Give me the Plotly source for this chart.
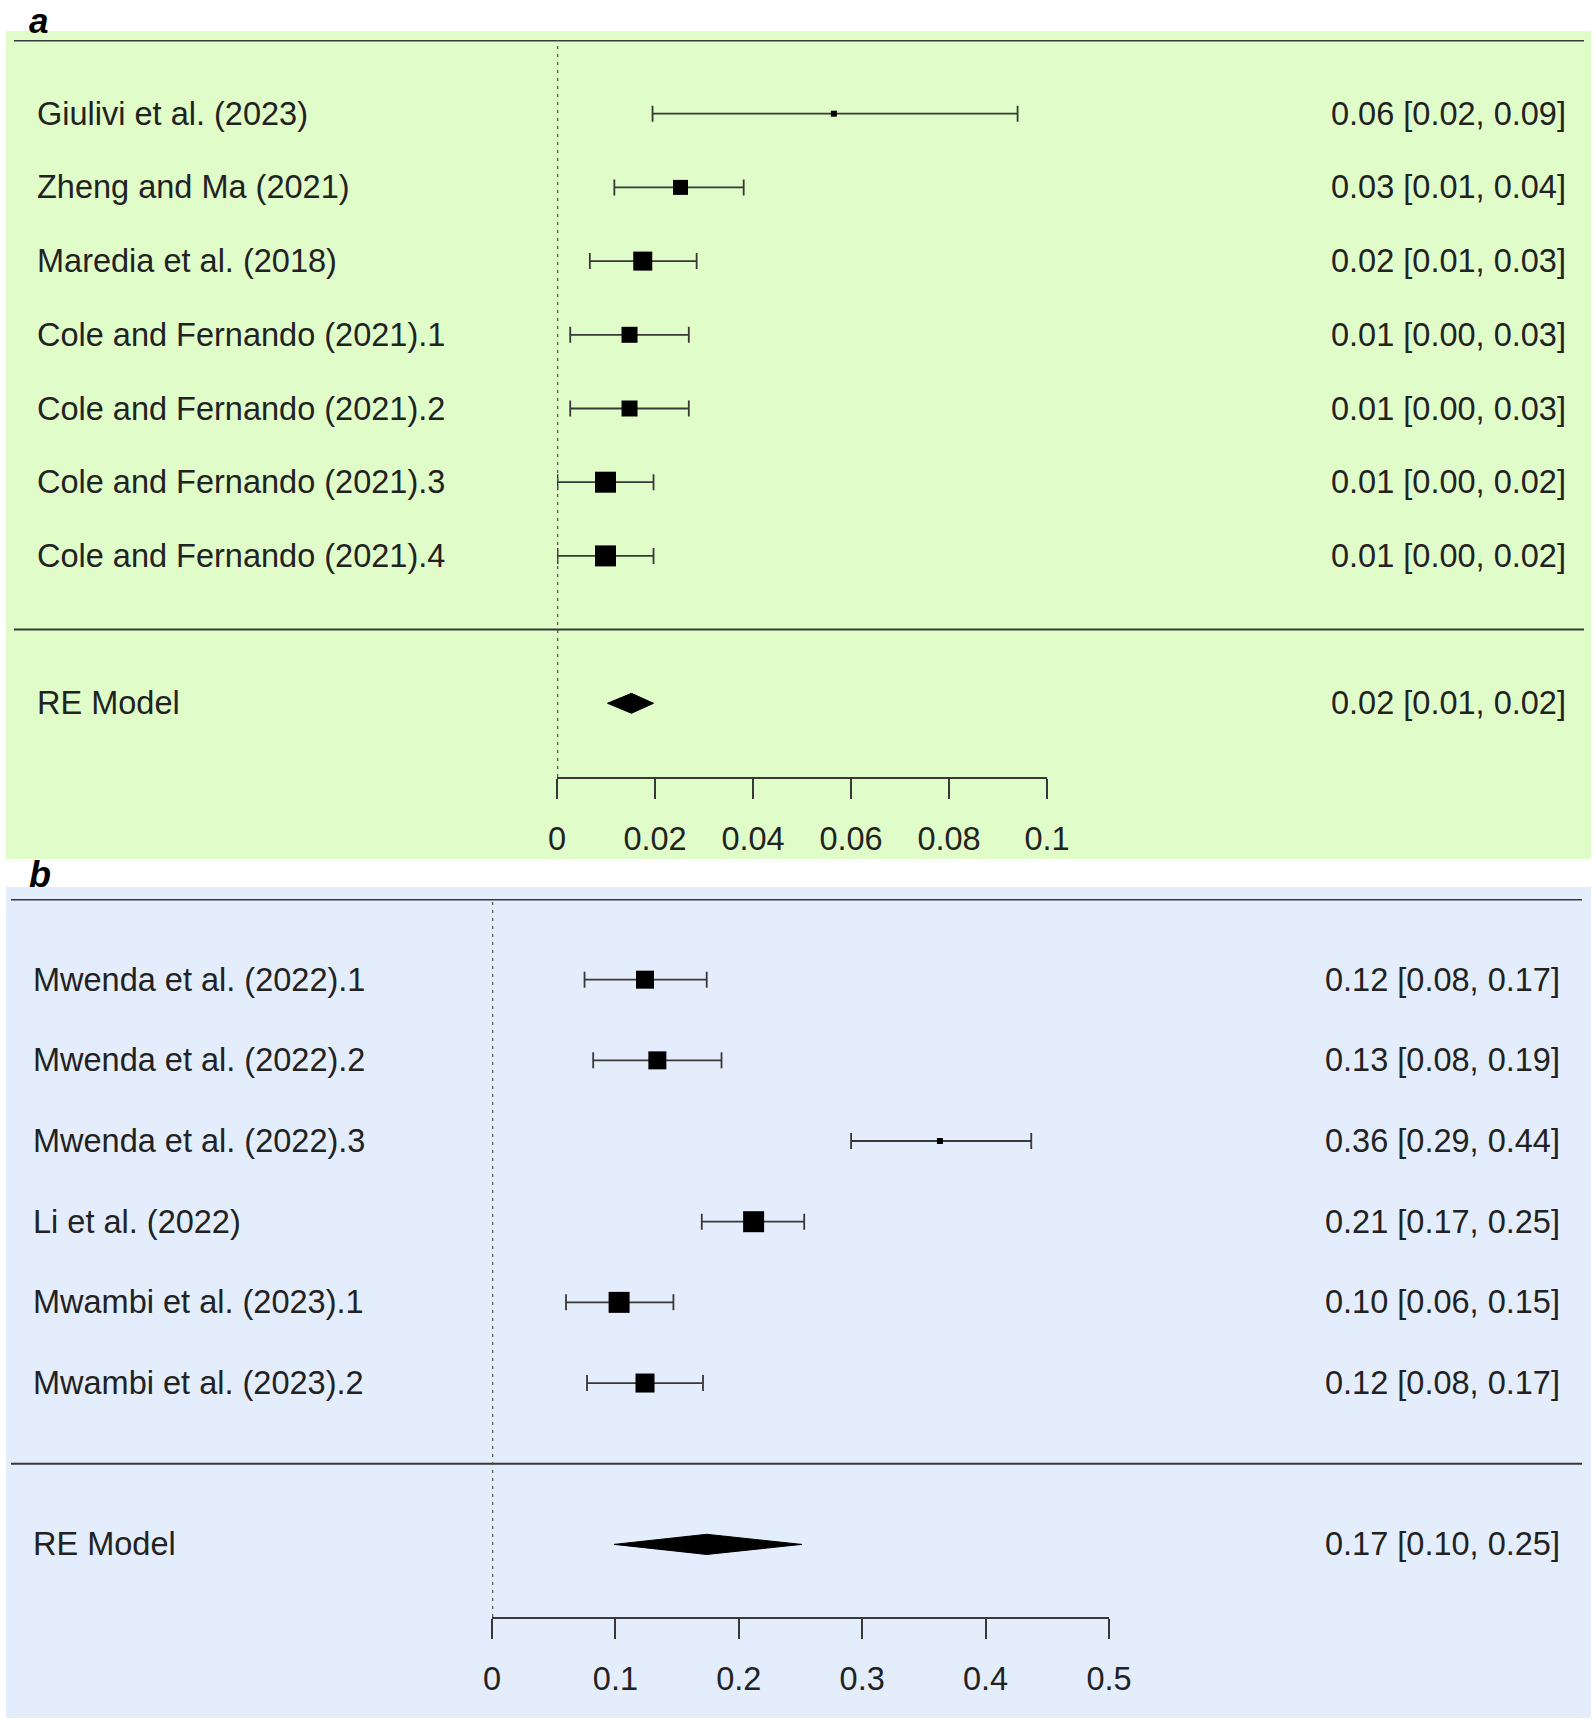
import plotly.graph_objects as go

# ---- panel a data ----
studies_a = ["Giulivi et al. (2023)", "Zheng and Ma (2021)", "Maredia et al. (2018)",
             "Cole and Fernando (2021).1", "Cole and Fernando (2021).2",
             "Cole and Fernando (2021).3", "Cole and Fernando (2021).4"]
est_a = [0.0565, 0.0252, 0.0175, 0.0148, 0.0148, 0.0099, 0.0099]
lo_a = [0.0195, 0.0117, 0.0067, 0.0027, 0.0027, 0.0001, 0.0001]
hi_a = [0.0940, 0.0381, 0.0285, 0.0269, 0.0269, 0.0197, 0.0197]
weight_a = [6, 15, 19, 16, 16, 21, 21]
ci_text_a = ["0.06 [0.02, 0.09]", "0.03 [0.01, 0.04]", "0.02 [0.01, 0.03]",
             "0.01 [0.00, 0.03]", "0.01 [0.00, 0.03]", "0.01 [0.00, 0.02]",
             "0.01 [0.00, 0.02]"]
re_a = [0.0152, 0.0103, 0.0197]  # est, lo, hi
re_text_a = "0.02 [0.01, 0.02]"
ticks_a = [0, 0.02, 0.04, 0.06, 0.08, 0.1]
ticklabels_a = ["0", "0.02", "0.04", "0.06", "0.08", "0.1"]

# ---- panel b data ----
studies_b = ["Mwenda et al. (2022).1", "Mwenda et al. (2022).2", "Mwenda et al. (2022).3",
             "Li et al. (2022)", "Mwambi et al. (2023).1", "Mwambi et al. (2023).2"]
est_b = [0.124, 0.134, 0.363, 0.212, 0.103, 0.124]
lo_b = [0.075, 0.082, 0.291, 0.170, 0.060, 0.077]
hi_b = [0.174, 0.186, 0.437, 0.253, 0.147, 0.171]
weight_b = [18, 18, 6, 21, 21, 19]
ci_text_b = ["0.12 [0.08, 0.17]", "0.13 [0.08, 0.19]", "0.36 [0.29, 0.44]",
             "0.21 [0.17, 0.25]", "0.10 [0.06, 0.15]", "0.12 [0.08, 0.17]"]
re_b = [0.174, 0.099, 0.251]
re_text_b = "0.17 [0.10, 0.25]"
ticks_b = [0, 0.1, 0.2, 0.3, 0.4, 0.5]
ticklabels_b = ["0", "0.1", "0.2", "0.3", "0.4", "0.5"]

W, H = 1595, 1722
FONT = "Arial, Liberation Sans, sans-serif"
TXT = "#222222"
LINE = "#383838"
FS = 32.5


def px_x(p):
    return p / W


def px_y(p):
    return 1 - p / H


fig = go.Figure()

# ypx: pixel of top line (row k+1) and of the x axis; ybot: axis value in row units
panels = [
    dict(xa="x", ya="y", studies=studies_a, est=est_a, lo=lo_a, hi=hi_a, w=weight_a,
         txt=ci_text_a, re=re_a, re_txt=re_text_a, ticks=ticks_a, tl=ticklabels_a,
         xrange=[0, 0.1], xpx=(557, 1047), ypx=(40, 777), ybot=-2.0, bg="#e0fcc8",
         bgpx=(31, 859), left=35, right=1568, hline=(14, 1584), tag="a",
         h=0.135),
    dict(xa="x2", ya="y2", studies=studies_b, est=est_b, lo=lo_b, hi=hi_b, w=weight_b,
         txt=ci_text_b, re=re_b, re_txt=re_text_b, ticks=ticks_b, tl=ticklabels_b,
         xrange=[0, 0.5], xpx=(492, 1109), ypx=(899, 1617), ybot=-1.9, bg="#e4edfb",
         bgpx=(887, 1718), left=31, right=1562, hline=(11, 1582), tag="b",
         h=0.125),
]

layout_axes = {}
for i, p in enumerate(panels):
    k = len(p["studies"])
    rows = list(range(k, 0, -1))
    xref, yref = p["xa"], p["ya"]

    # background
    fig.add_shape(type="rect", xref="paper", yref="paper", x0=px_x(6), x1=px_x(1591),
                  y0=px_y(p["bgpx"][1]), y1=px_y(p["bgpx"][0]),
                  fillcolor=p["bg"], line_width=0, layer="below")

    # top line and separator
    fig.add_shape(type="line", xref="paper", yref=yref, x0=px_x(p["hline"][0]),
                  x1=px_x(p["hline"][1]), y0=k + 1, y1=k + 1,
                  line=dict(color=LINE, width=3))
    fig.add_shape(type="line", xref="paper", yref=yref, x0=px_x(p["hline"][0]),
                  x1=px_x(p["hline"][1]), y0=0, y1=0,
                  line=dict(color=LINE, width=2))
    # reference line at 0
    fig.add_shape(type="line", xref=xref, yref=yref, x0=0, x1=0, y0=p["ybot"], y1=k + 1,
                  line=dict(color="#555555", width=2.5, dash="3px,5px"))

    # study estimates
    fig.add_trace(go.Scatter(
        x=p["est"], y=rows, mode="markers", xaxis=xref, yaxis=yref,
        marker=dict(symbol="square", size=p["w"], color="#000000", opacity=1,
                    line=dict(width=0)),
        error_x=dict(type="data", symmetric=False,
                     array=[h - e for h, e in zip(p["hi"], p["est"])],
                     arrayminus=[e - l for e, l in zip(p["est"], p["lo"])],
                     color=LINE, thickness=1.8, width=8),
        showlegend=False, hoverinfo="skip"))

    # RE model diamond
    e, l, h = p["re"]
    fig.add_trace(go.Scatter(
        x=[l, e, h, e, l], y=[-1, -1 + p["h"], -1, -1 - p["h"], -1],
        mode="lines", fill="toself", fillcolor="black", line=dict(color="black", width=1),
        xaxis=xref, yaxis=yref, showlegend=False, hoverinfo="skip"))

    # labels
    for r, s, t in zip(rows + [-1], p["studies"] + ["RE Model"], p["txt"] + [p["re_txt"]]):
        fig.add_annotation(x=px_x(p["left"]), y=r, xref="paper", yref=yref, text=s,
                           xanchor="left", yanchor="middle", showarrow=False,
                           font=dict(size=FS, color=TXT, family=FONT))
        fig.add_annotation(x=px_x(p["right"]), y=r, xref="paper", yref=yref, text=t,
                           xanchor="right", yanchor="middle", showarrow=False,
                           font=dict(size=FS, color=TXT, family=FONT))

    xname = "xaxis" if i == 0 else "xaxis2"
    yname = "yaxis" if i == 0 else "yaxis2"
    layout_axes[xname] = dict(
        domain=[px_x(p["xpx"][0]), px_x(p["xpx"][1])], range=p["xrange"],
        anchor=yref, tickvals=p["ticks"], ticktext=p["tl"], ticks="outside",
        ticklen=20, tickwidth=2, tickcolor=LINE, showline=True, linecolor=LINE,
        linewidth=2, showgrid=False, zeroline=False, ticklabelstandoff=12,
        automargin=False, tickfont=dict(size=FS, color=TXT, family=FONT))
    layout_axes[yname] = dict(
        domain=[px_y(p["ypx"][1]), px_y(p["ypx"][0])], range=[p["ybot"], k + 1],
        anchor=xref, visible=False, showgrid=False, zeroline=False, automargin=False)

# panel tags
fig.add_annotation(x=px_x(28), y=1, xref="paper", yref="paper", text="<b><i>a</i></b>",
                   xanchor="left", yanchor="top", showarrow=False, borderpad=0,
                   font=dict(size=35, color="black", family=FONT))
fig.add_annotation(x=px_x(28), y=px_y(896), xref="paper", yref="paper",
                   text="<b><i>b</i></b>", xanchor="left", yanchor="bottom",
                   showarrow=False, borderpad=0,
                   font=dict(size=36, color="black", family=FONT))

fig.update_layout(template="none", width=W, height=H,
                  margin=dict(l=0, r=0, t=0, b=0, pad=0, autoexpand=False),
                  paper_bgcolor="white", plot_bgcolor="rgba(0,0,0,0)",
                  **layout_axes)

fig.write_html("out.html", config={"displayModeBar": False},
               post_script="document.body.style.margin='0px';")
